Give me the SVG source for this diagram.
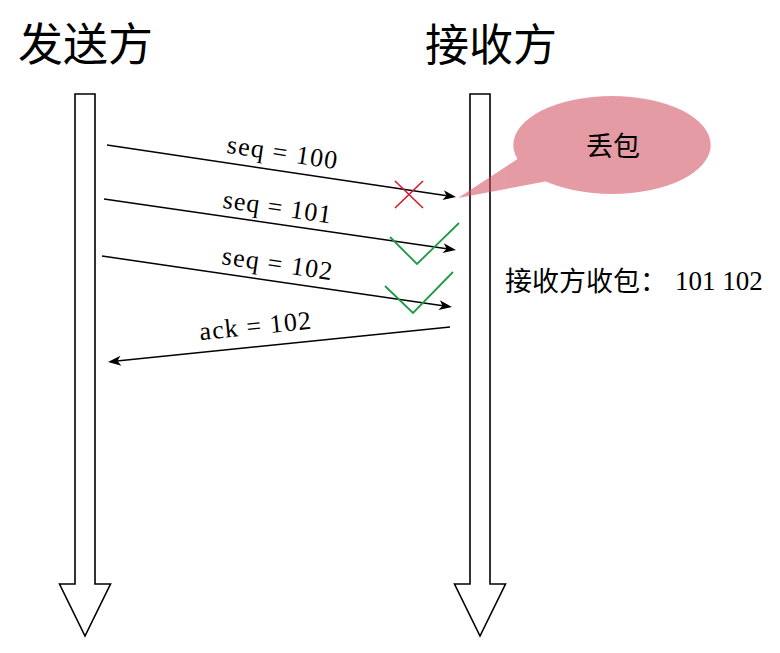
<svg xmlns="http://www.w3.org/2000/svg" width="780" height="653" viewBox="0 0 780 653">
<style>
.cjk{font-family:"Noto Sans CJK SC","Noto Sans CJK JP",sans-serif;fill:#000}
.lbl{font-family:"Liberation Serif","DejaVu Serif",serif;font-size:26px;fill:#000}
.life{fill:#fff;stroke:#000;stroke-width:1.6}
.msg{stroke:#000;stroke-width:1.5;fill:none;marker-end:url(#ah)}
.cross{stroke:#d7192d;stroke-width:1.6;fill:none}
.tick{stroke:#1c9a44;stroke-width:1.8;fill:none}
</style>
<defs>
<marker id="ah" markerUnits="userSpaceOnUse" viewBox="-10 -6 15 12" refX="0" refY="0" markerWidth="15" markerHeight="12" orient="auto">
<path d="M4,0 L-9,-5 L-5.5,0 L-9,5 Z" fill="#000"/>
</marker>
</defs>
<rect width="780" height="653" fill="#fff"/>
<g id="sender">
<text class="cjk" x="18" y="61" font-size="45">发送方</text>
<path class="life" d="M75,94 H95 V584 H110.5 L85,636 L59.5,584 H75 Z"/>
</g>
<g id="receiver">
<text class="cjk" x="425" y="61" font-size="44">接收方</text>
<path class="life" d="M470,94 H490 V584 H505.5 L480,636 L454.5,584 H470 Z"/>
</g>
<g id="connectors">
<line class="msg" x1="107" y1="145" x2="452.04" y2="196.41"/>
<line class="msg" x1="104" y1="199" x2="452.04" y2="249.42"/>
<line class="msg" x1="102" y1="256" x2="448.04" y2="306.42"/>
<line class="msg" x1="450" y1="327" x2="111.98" y2="361.59"/>
<text class="lbl" transform="translate(281,161) rotate(8.47)" text-anchor="middle" textLength="111" lengthAdjust="spacing">seq = 100</text>
<text class="lbl" transform="translate(276,215.5) rotate(8.27)" text-anchor="middle" textLength="109" lengthAdjust="spacing">seq = 101</text>
<text class="lbl" transform="translate(276,272) rotate(8.29)" text-anchor="middle" textLength="111" lengthAdjust="spacing">seq = 102</text>
<text class="lbl" transform="translate(256,334.5) rotate(-5.84)" text-anchor="middle" textLength="112" lengthAdjust="spacing">ack = 102</text>
</g>
<g id="lost-mark">
<path class="cross" d="M395,181 L423,208 M423,181 L395,208"/>
</g>
<g id="ok-mark-1">
<path class="tick" d="M390,237 L417,264 L459,223"/>
</g>
<g id="ok-mark-2">
<path class="tick" d="M385,286 L413,313 L453,272"/>
</g>
<g id="bubble">
<g opacity="0.55" fill="#d14a5b">
<ellipse cx="612" cy="145" rx="98.7" ry="49"/>
<polygon points="519,158 458,198 548,181"/>
</g>
<text class="cjk" x="613" y="156" font-size="27" text-anchor="middle">丢包</text>
</g>
<g id="note">
<text class="cjk" x="505" y="291" font-size="27">接收方收包：<tspan x="675" y="290" style="font-family:'Liberation Serif','DejaVu Serif',serif">101 102</tspan></text>
</g>
</svg>
